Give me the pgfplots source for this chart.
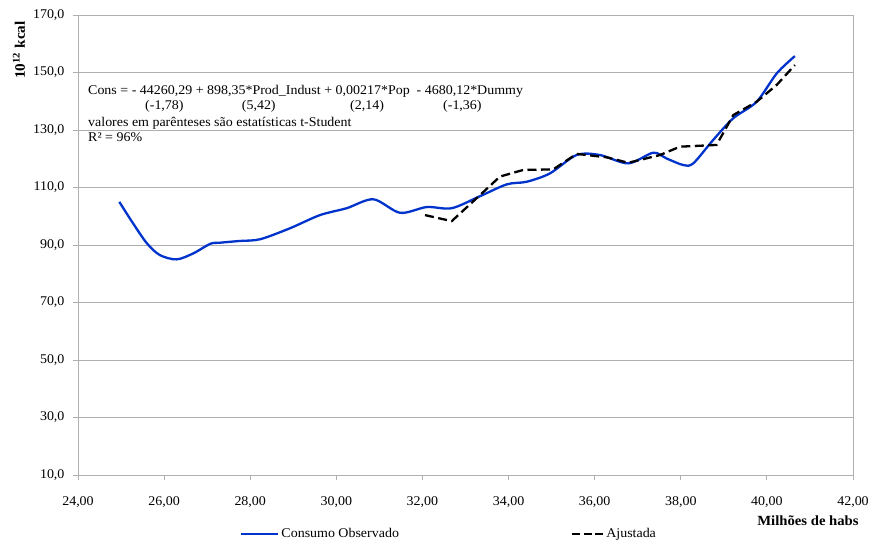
\documentclass[border=0pt]{standalone}
\usepackage{fontspec}
\setmainfont{Liberation Serif}[FakeStretch=1.05]
\usepackage{pgfplots}
\pgfplotsset{compat=1.18}
\definecolor{obsblue}{RGB}{0,51,204}
\definecolor{gridgray}{RGB}{175,175,175}
\newcommand{\fs}{\fontsize{13.3}{15}\selectfont}
\pgfplotsset{
 bluelegend/.style={legend image code/.code={\draw[##1] (0pt,0pt) -- (37pt,0pt);}},
 dashlegend/.style={legend image code/.code={\draw[##1, dash pattern=on 8pt off 3.5pt] (0pt,0pt) -- (31pt,0pt);}},
}
\begin{document}
\begin{tikzpicture}
\useasboundingbox (0,0) rectangle (873pt,542pt);
\begin{axis}[
 at={(78pt,67pt)}, anchor=south west,
 width=775pt, height=460pt, scale only axis,
 xmin=24, xmax=42, ymin=10, ymax=170,
 xtick={24,26,...,42}, ytick={10,30,...,170},
 ymajorgrids, grid style={gridgray, line width=0.8pt},
 axis line style={gridgray, line width=0.8pt},
 tick style={gridgray, line width=0.8pt},
 tick align=outside, xtick pos=lower, ytick pos=left,
 major tick length=5pt,
 /pgf/number format/assume math mode=true,
 ticklabel style={font=\fs},
 xticklabel style={yshift=-13pt, /pgf/number format/.cd, fixed, fixed zerofill, precision=2, use comma},
 yticklabel style={xshift=-5pt, /pgf/number format/.cd, fixed, fixed zerofill, precision=1, use comma},
 legend columns=2,
 legend style={at={(0.209,-0.128)}, anchor=west, draw=none, fill=none, inner sep=0pt, font=\fs,
   /tikz/every even column/.append style={column sep=170pt}},
]
\addplot[obsblue, line width=2.3pt, smooth, bluelegend] coordinates {
(24.96,105.0) (25.28,97.5) (25.60,90.6) (25.90,86.5) (26.29,85.0) (26.68,87.1)
(27.07,90.4) (27.30,90.8) (27.75,91.4) (28.23,92.0) (28.92,95.8) (29.62,100.4)
(30.24,102.8) (30.86,105.9) (31.48,101.2) (32.10,103.2) (32.68,102.8) (33.34,107.0)
(33.96,111.1) (34.42,112.0) (34.96,114.9) (35.58,121.3) (36.12,121.3) (36.78,118.4)
(37.36,122.1) (37.67,120.1) (38.06,117.8) (38.29,118.4) (38.75,126.5) (39.22,134.1)
(39.76,139.8) (40.23,149.7) (40.65,155.7)
};
\addlegendentry{Consumo Observado}
\addplot[black, line width=2.3pt, dash pattern=on 9pt off 4.5pt, dashlegend] coordinates {
(32.06,100.4) (32.68,98.3) (33.34,107.4) (33.80,113.8) (34.34,116.1) (35.04,116.3)
(35.58,121.7) (36.28,120.5) (36.78,118.6) (37.52,121.3) (37.98,124.2) (38.83,124.8)
(39.22,135.2) (39.76,139.8) (40.23,145.7) (40.65,152.6)
};
\addlegendentry{Ajustada}
\end{axis}
\begin{scope}[every node/.style={font=\fs, inner sep=0pt}]
\node[anchor=base west] at (88pt,447pt) {Cons = - 44260,29 + 898,35*Prod\_Indust + 0,00217*Pop \ - 4680,12*Dummy};
\node[anchor=base west] at (145pt,432pt) {(-1,78)};
\node[anchor=base west] at (241.7pt,432pt) {(5,42)};
\node[anchor=base west] at (350pt,432pt) {(2,14)};
\node[anchor=base west] at (443pt,432pt) {(-1,36)};
\node[anchor=base west] at (88pt,415pt) {valores em parênteses são estatísticas t-Student};
\node[anchor=base west] at (88pt,400pt) {R² = 96\%};
\end{scope}
\node[font=\bfseries\fontsize{14.5}{16}\selectfont, rotate=90, inner sep=0pt] at (19pt,492pt) {10\textsuperscript{12} kcal};
\node[font=\bfseries\fontsize{14}{16}\selectfont, inner sep=0pt] at (808pt,21pt) {Milhões de habs};
\end{tikzpicture}
\end{document}
